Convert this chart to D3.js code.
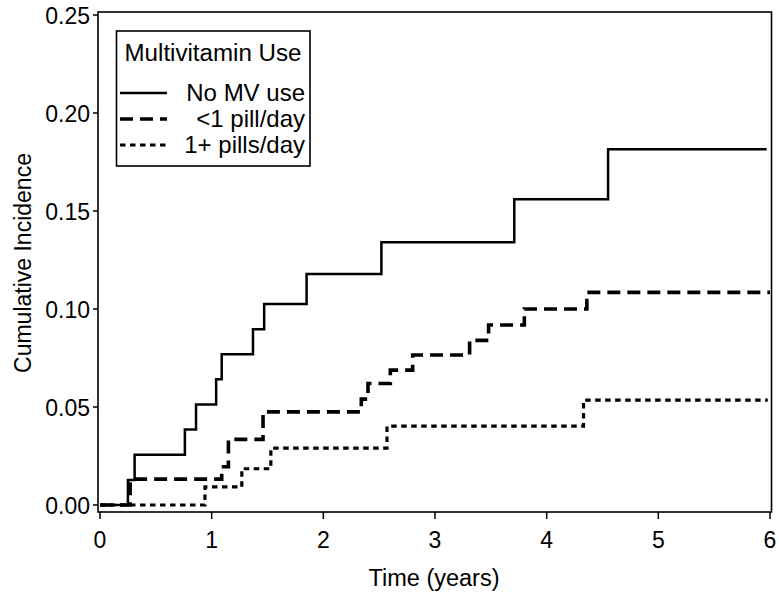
<!DOCTYPE html>
<html>
<head>
<meta charset="utf-8">
<script src="https://cdn.jsdelivr.net/npm/d3@7"></script>
<style>
  html, body { margin: 0; padding: 0; background: #fff; }
  text { font-family: "Liberation Sans", Arial, sans-serif; fill: #000; }
</style>
</head>
<body>
<svg id="chart" width="779" height="602"></svg>
<script>
// ---- data ----
const xTicks = [0, 1, 2, 3, 4, 5, 6];
const yTicks = [0, 0.05, 0.10, 0.15, 0.20, 0.25];

const noMvTimes  = [0, 0.25, 0.31, 0.76, 0.86, 1.04, 1.09, 1.37, 1.47, 1.85, 2.52, 3.71, 4.55, 5.97];
const noMvValues = [0, 0.0128, 0.0256, 0.0385, 0.0513, 0.0641, 0.0769, 0.0897, 0.1026, 0.1178, 0.1340, 0.1560, 0.1815, 0.1815];

const lt1Times  = [0, 0.27, 1.09, 1.15, 1.46, 2.34, 2.40, 2.60, 2.80, 3.31, 3.48, 3.80, 4.36, 6.0];
const lt1Values = [0, 0.0132, 0.0195, 0.0335, 0.0475, 0.0540, 0.0620, 0.0688, 0.0765, 0.0840, 0.0918, 0.1000, 0.1085, 0.1085];

const ge1Times  = [0, 0.94, 1.27, 1.53, 2.57, 4.33, 5.98];
const ge1Values = [0, 0.0092, 0.0185, 0.0290, 0.0402, 0.0535, 0.0535];

const seriesNames = ["No MV use", "<1 pill/day", "1+ pills/day"];
const legendTitle = "Multivitamin Use";

// ---- layout ----
const svg = d3.select("#chart");
const x = d3.scaleLinear().domain([0, 6]).range([100, 770]);
const y = d3.scaleLinear().domain([0, 0.25]).range([505, 15]);
const frame = {x0: 98, x1: 771.5, y0: 12, y1: 512};

const styles = [
  {width: 2.5, dash: null},
  {width: 3.6, dash: "13,7"},
  {width: 3.2, dash: "5.5,4.5"}
];

const series = [
  {t: noMvTimes, v: noMvValues},
  {t: lt1Times, v: lt1Values},
  {t: ge1Times, v: ge1Values}
];

const line = d3.line()
  .x(d => x(d[0]))
  .y(d => y(d[1]))
  .curve(d3.curveStepAfter);

// frame
svg.append("rect")
  .attr("x", frame.x0).attr("y", frame.y0)
  .attr("width", frame.x1 - frame.x0).attr("height", frame.y1 - frame.y0)
  .attr("fill", "none").attr("stroke", "#000").attr("stroke-width", 1.6);

// lines
series.forEach((s, i) => {
  const pts = s.t.map((t, k) => [t, s.v[k]]);
  svg.append("path")
    .datum(pts)
    .attr("d", line)
    .attr("fill", "none")
    .attr("stroke", "#000")
    .attr("stroke-width", styles[i].width)
    .attr("stroke-dasharray", styles[i].dash);
});

// x axis
const xAxis = svg.append("g");
xTicks.forEach(t => {
  xAxis.append("line")
    .attr("x1", x(t)).attr("x2", x(t))
    .attr("y1", frame.y1).attr("y2", frame.y1 + 7)
    .attr("stroke", "#000").attr("stroke-width", 1.5);
  xAxis.append("text")
    .attr("x", x(t)).attr("y", 548)
    .attr("text-anchor", "middle")
    .attr("font-size", 23)
    .text(d3.format("d")(t));
});

// y axis
const yAxis = svg.append("g");
yTicks.forEach(v => {
  yAxis.append("line")
    .attr("x1", frame.x0 - 5).attr("x2", frame.x0)
    .attr("y1", y(v)).attr("y2", y(v))
    .attr("stroke", "#000").attr("stroke-width", 1.5);
  yAxis.append("text")
    .attr("x", 90).attr("y", y(v) + 8.5)
    .attr("text-anchor", "end")
    .attr("font-size", 23)
    .text(d3.format(".2f")(v));
});

// axis titles
svg.append("text")
  .attr("x", 434).attr("y", 586)
  .attr("text-anchor", "middle")
  .attr("font-size", 23.5)
  .text("Time (years)");

svg.append("text")
  .attr("transform", "translate(31,263) rotate(-90)")
  .attr("text-anchor", "middle")
  .attr("font-size", 23)
  .text("Cumulative Incidence");

// legend
const lg = svg.append("g");
lg.append("rect")
  .attr("x", 116.5).attr("y", 31)
  .attr("width", 193.5).attr("height", 135)
  .attr("fill", "#fff").attr("stroke", "#000").attr("stroke-width", 1.6);
lg.append("text")
  .attr("x", 213).attr("y", 61)
  .attr("text-anchor", "middle")
  .attr("font-size", 23.5)
  .attr("textLength", 177)
  .attr("lengthAdjust", "spacingAndGlyphs")
  .text(legendTitle);
const entryY = [93, 119, 145];
seriesNames.forEach((name, i) => {
  lg.append("line")
    .attr("x1", 120).attr("x2", 167)
    .attr("y1", entryY[i]).attr("y2", entryY[i])
    .attr("stroke", "#000")
    .attr("stroke-width", styles[i].width)
    .attr("stroke-dasharray", styles[i].dash);
  lg.append("text")
    .attr("x", 305).attr("y", entryY[i] + 8)
    .attr("text-anchor", "end")
    .attr("font-size", 24)
    .text(name);
});
</script>
</body>
</html>
